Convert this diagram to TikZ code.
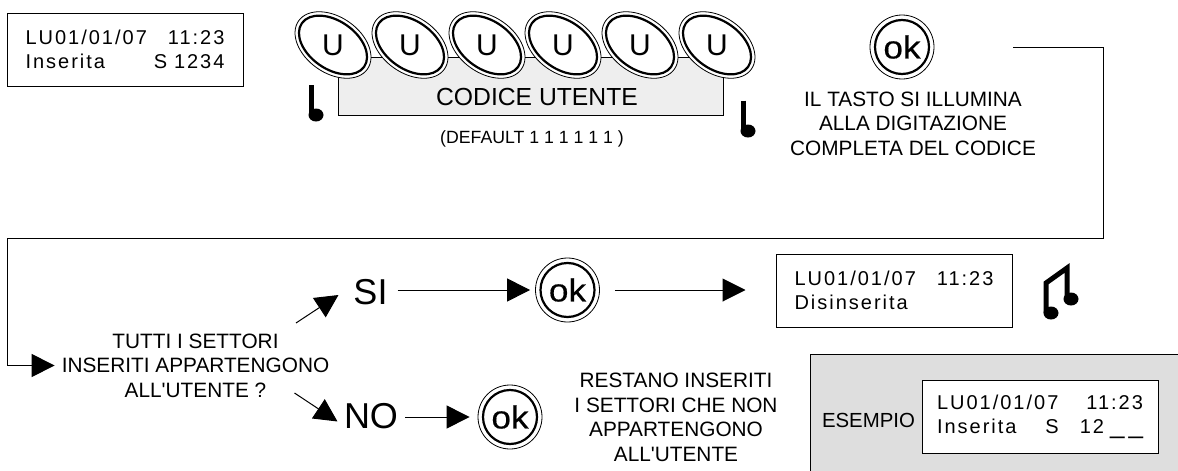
\documentclass[tikz,border=0pt]{standalone}
\usepackage{fontspec}
\setmainfont{Liberation Sans}
\newfontfamily\lcdfam[LetterSpace=10]{Liberation Sans}
\newfontfamily\okfam[FakeStretch=1.1,FakeBold=0.4]{Liberation Sans}
\usetikzlibrary{arrows.meta, shapes.geometric, positioning}
\definecolor{codegray}{HTML}{EEEEEE}
\definecolor{samplegray}{HTML}{DEDEDE}
\tikzset{flow/.style={draw, line width=1pt, -{Triangle[length=23pt,width=23pt]}}}

\begin{document}
\begin{tikzpicture}[x=1pt,y=-1pt,
 lcd/.style={draw,line width=1pt,minimum width=236pt,minimum height=73pt,inner sep=0pt,align=left,text width=199pt,font=\lcdfam\fontsize{20}{24}\selectfont},
 note/.style={font=\fontsize{20.8}{24.5}\selectfont,align=center,inner sep=0pt},
 answer/.style={font=\fontsize{36}{40}\selectfont,inner sep=0pt,anchor=base},
 keyrim/.style={ellipse,draw,fill=white,line width=0.8pt,minimum width=84pt,minimum height=56pt,inner sep=0pt},
 keyface/.style={ellipse,draw,line width=2.2pt,minimum width=76pt,minimum height=48pt,inner sep=0pt},
 okrim/.style={circle,draw,fill=white,line width=0.8pt,minimum size=64pt,inner sep=0pt},
 okface/.style={circle,draw,line width=2.2pt,minimum size=54pt,inner sep=0pt,font=\okfam\fontsize{32}{32}\selectfont},
 stem/.style={line width=5pt}]
 \useasboundingbox (0,0) rectangle (1178,471);

 \node[lcd] (display) at (125,49.5) {LU01/01/07\hfill 11:23\\Inserita\hfill S 1234};

 % code bar with the row of keys
 \node[draw,fill=codegray,line width=1pt,minimum width=385pt,minimum height=58pt,inner sep=0pt] (code) at (530.5,86) {};
 \foreach \x [count=\i] in {333,410,487,563,640,717}{
  \node[keyrim,rotate=-35] (key\i) at (\x,45) {};
  \node[keyface,rotate=-35] at (key\i) {};
  \node[font=\fontsize{30}{30}\selectfont,inner sep=0pt] at (key\i) {U};
 }
 \node[font=\fontsize{24.7}{28}\selectfont,inner sep=0pt,anchor=base] (codetxt) at (537,105) {CODICE UTENTE};
 \node[font=\fontsize{17.7}{20}\selectfont,inner sep=0pt,anchor=base] (deftxt) at (532,143) {(DEFAULT 1 1 1 1 1 1 )};

 % single notes
 \draw[stem] (311,85) -- (311,115);
 \fill (316,115) ellipse [x radius=7.5,y radius=6.5];
 \draw[stem] (743,100.5) -- (743,131);
 \fill (748,131) ellipse [x radius=7.5,y radius=6.5];

 % ok keys
 \foreach \nm/\x/\y in {oka/902/47,okb/567.5/290,okc/510/417}{
  \node[okrim] (\nm) at (\x,\y) {};
  \node[okface] at (\nm) {ok};
 }
 \node[note] (lit) at (913,123.5) {IL TASTO SI ILLUMINA\\ALLA DIGITAZIONE\\COMPLETA DEL CODICE};

 % question and its two answers
 \node[note] (question) at (195.5,365.5) {TUTTI I SETTORI\\INSERITI APPARTENGONO\\ALL\textquotesingle UTENTE ?};
 \node[answer] (si) at (370.5,304.5) {SI};
 \node[answer] (no) at (371,428) {NO};
 \node[note] (stay) at (676,417.5) {RESTANO INSERITI\\I SETTORI CHE NON\\APPARTENGONO\\ALL\textquotesingle UTENTE};

 \coordinate (loopa) at (1013,47);
 \coordinate (loopb) at (1103,238.5);
 \coordinate (loopc) at (7.5,238.5);
 \draw[flow,shorten >=7pt] (loopa) -| (loopb) -- (loopc) |- (question.west);

 \coordinate (sistart) at (296,323);
 \coordinate (sitip) at (338.5,295);
 \draw[flow] (sistart) -- (sitip);
 \coordinate (nostart) at (294.5,393);
 \coordinate (notip) at (337.5,421.5);
 \draw[flow] (nostart) -- (notip);

 \draw[flow,shorten <=10pt,shorten >=5pt] (si.east |- okb) -- (okb.west);
 \draw[flow,shorten <=7pt,shorten >=8pt] (no.east |- okc) -- (okc.west);

 % result display with the double note
 \node[lcd] (off) at (894,290.5) {LU01/01/07\hfill 11:23\\Disinserita};
 \draw[flow,shorten <=15pt,shorten >=30pt] (okb.east) -- (off.west |- okb);
 \draw[stem,line join=miter] (1046,313) -- (1046,283) -- (1067,268) -- (1067,299);
 \fill (1051,313) ellipse [x radius=7.5,y radius=6.5];
 \fill (1071,299) ellipse [x radius=7.5,y radius=6.5];

 % example panel
 \node[draw,fill=samplegray,line width=1pt,minimum width=368pt,minimum height=118pt,inner sep=0pt,anchor=north west] (sample) at (810,353.5) {};
 \node[font=\fontsize{20.4}{24}\selectfont,inner sep=0pt,anchor=base] (sampletxt) at (868.5,427) {ESEMPIO};
 \node[lcd,fill=white,text width=206pt] (sampled) at (1040,416.5) {LU01/01/07\hfill 11:23\\Inserita\hfill S\hspace{21pt}12\hspace{6pt}{\fontsize{26}{24}\selectfont\_\hspace{4pt}\_}\hspace*{-5pt}};
\end{tikzpicture}
\end{document}
